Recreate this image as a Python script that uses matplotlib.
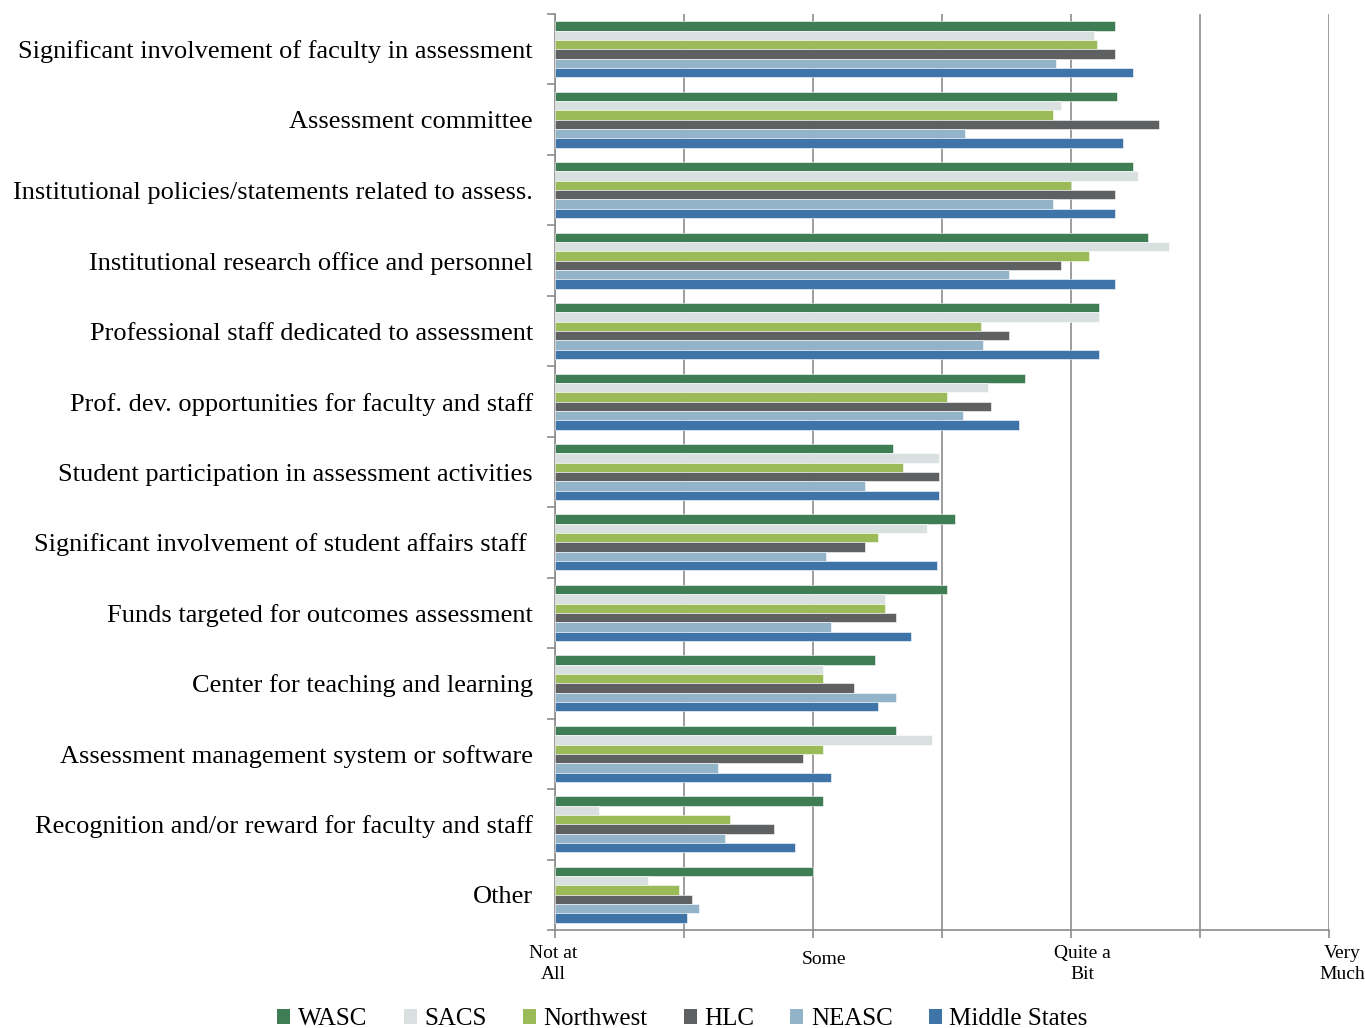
import numpy as np
import matplotlib
matplotlib.use("Agg")
import matplotlib.pyplot as plt
import matplotlib.transforms as mtransforms
from matplotlib.patches import Patch

plt.rcParams["font.family"] = ["Liberation Serif", "DejaVu Serif"]

# categories, top to bottom
categories = [
    "Significant involvement of faculty in assessment",
    "Assessment committee",
    "Institutional policies/statements related to assess.",
    "Institutional research office and personnel",
    "Professional staff dedicated to assessment",
    "Prof. dev. opportunities for faculty and staff",
    "Student participation in assessment activities",
    "Significant involvement of student affairs staff ",
    "Funds targeted for outcomes assessment",
    "Center for teaching and learning",
    "Assessment management system or software",
    "Recognition and/or reward for faculty and staff",
    "Other",
]

series_names = ["WASC", "SACS", "Northwest", "HLC", "NEASC", "Middle States"]
colors = ["#3f7d55", "#d9e1e0", "#9bbb59", "#5f6062", "#93b3c9", "#3f74a8"]

wasc = [3.17, 3.18, 3.24, 3.30, 3.11, 2.82, 2.31, 2.55, 2.52, 2.24, 2.32, 2.04, 2.00]
sacs = [3.09, 2.96, 3.26, 3.38, 3.11, 2.68, 2.49, 2.44, 2.28, 2.04, 2.46, 1.17, 1.36]
northwest = [3.10, 2.93, 3.00, 3.07, 2.65, 2.52, 2.35, 2.25, 2.28, 2.04, 2.04, 1.68, 1.48]
hlc = [3.17, 3.34, 3.17, 2.96, 2.76, 2.69, 2.49, 2.20, 2.32, 2.16, 1.96, 1.85, 1.53]
neasc = [2.94, 2.59, 2.93, 2.76, 2.66, 2.58, 2.20, 2.05, 2.07, 2.32, 1.63, 1.66, 1.56]
middle_states = [3.24, 3.20, 3.17, 3.17, 3.11, 2.80, 2.49, 2.48, 2.38, 2.25, 2.07, 1.93, 1.51]

series = [wasc, sacs, northwest, hlc, neasc, middle_states]

tick_vals = [1, 2, 3, 4]
tick_labels = ["Not at\nAll", "Some", "Quite a\nBit", "Very\nMuch"]

fig = plt.figure(figsize=(13.65, 10.28), dpi=100)
ax = fig.add_axes([555 / 1365, 1 - 930 / 1028, (1329 - 555) / 1365, (930 - 14) / 1028])

n = len(categories)
centers = np.arange(n)[::-1] + 0.5
bar_h = 0.1325
for i, (name, vals, c) in enumerate(zip(series_names, series, colors)):
    y = centers + (2.5 - i) * bar_h
    ax.barh(y, np.array(vals) - 1, left=1, height=bar_h, color=c,
            edgecolor="white", linewidth=0.4, label=name, zorder=3)

ax.set_xlim(1, 4)
ax.set_ylim(0, n)

# x axis: gridlines/ticks every half step, text labels at the whole steps
ax.xaxis.remove_overlapping_locs = False
ax.set_xticks(np.arange(1, 4.01, 0.5))
ax.set_xticklabels([])
ax.set_xticks(tick_vals, minor=True)
ax.set_xticklabels(tick_labels, minor=True, fontsize=14, linespacing=1.3)
ax.tick_params(axis="x", which="major", length=6, width=1.2, color="#8c8c8c", direction="out")
ax.tick_params(axis="x", which="minor", length=0, pad=11)
shifts = [(-0.02, 0), (0.11, -0.06), (0.11, 0), (0.13, 0)]
for lab, (dx, dy) in zip(ax.xaxis.get_minorticklabels(), shifts):
    lab.set_transform(lab.get_transform() + mtransforms.ScaledTranslation(dx, dy, fig.dpi_scale_trans))
ax.grid(axis="x", which="major", color="#8c8c8c", linewidth=1.2, zorder=0)

# y axis
ax.set_yticks(np.arange(0, n + 1))
ax.set_yticklabels([])
ax.set_yticks(centers, minor=True)
ax.set_yticklabels(categories, minor=True, fontsize=19)
ax.tick_params(axis="y", which="major", length=6, width=1.2, color="#8c8c8c", direction="out")
ax.tick_params(axis="y", which="minor", length=0, pad=16)

for s in ["top", "right"]:
    ax.spines[s].set_visible(False)
for s in ["left", "bottom"]:
    ax.spines[s].set_color("#8c8c8c")
    ax.spines[s].set_linewidth(1.2)

handles = [Patch(facecolor=c, edgecolor="none") for c in colors]
fig.legend(handles, series_names, loc="lower center", bbox_to_anchor=(0.5, -0.024),
           ncol=6, frameon=False, fontsize=18, handlelength=0.52, handleheight=0.56,
           handletextpad=0.3, columnspacing=1.45)

fig.savefig("out.png", dpi=100)
